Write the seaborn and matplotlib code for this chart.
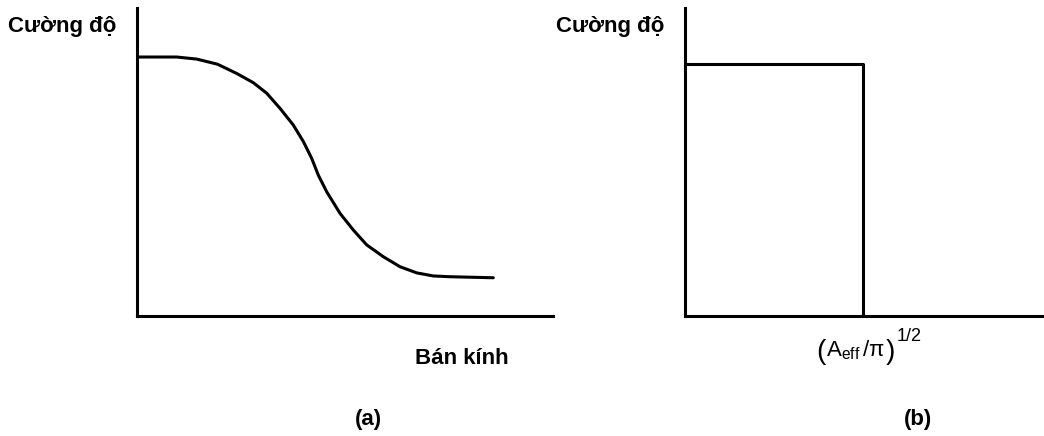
import matplotlib
matplotlib.use("Agg")
import matplotlib.pyplot as plt
import seaborn as sns
import pandas as pd

# Panel (a): intensity profile against radius
radius_a = [0.0, 0.954, 1.435, 1.935, 2.397, 2.796, 3.118, 3.438, 3.757,
            3.998, 4.200, 4.358, 4.560, 4.880, 5.200, 5.522, 5.921, 6.322,
            6.724, 7.123, 7.524, 8.565]
intensity_a = [1.009, 1.009, 1.001, 0.981, 0.945, 0.909, 0.868, 0.809, 0.744,
               0.680, 0.614, 0.549, 0.484, 0.400, 0.335, 0.277, 0.231, 0.192,
               0.168, 0.156, 0.153, 0.149]

# Panel (b): equivalent top-hat profile, cut at (A_eff/pi)^(1/2)
radius_b = [0.0, 4.28, 4.28]
intensity_b = [0.98, 0.98, 0.0]

y_label = "Cường độ"
x_label_a = "Bán kính"
x_label_b_inner = r"$A_{eff}\,/\pi$"
x_label_b_power = "1/2"
panel_tags = ["(a)", "(b)"]

sns.set_theme(style="white")
plt.rcParams["font.family"] = ["Liberation Sans", "DejaVu Sans"]
plt.rcParams["text.color"] = "black"
plt.rcParams["mathtext.fontset"] = "custom"
plt.rcParams["mathtext.rm"] = "Liberation Sans"
plt.rcParams["mathtext.it"] = "Liberation Sans"
plt.rcParams["mathtext.bf"] = "Liberation Sans:bold"
plt.rcParams["mathtext.default"] = "regular"

W, H = 1044, 436
fig = plt.figure(figsize=(W / 100, H / 100), dpi=100)
ax_a = fig.add_axes([137 / W, 1 - 316 / H, 416 / W, 308 / H])
ax_b = fig.add_axes([685 / W, 1 - 316 / H, 359 / W, 308 / H])

df_a = pd.DataFrame({"r": radius_a, "I": intensity_a})
df_b = pd.DataFrame({"r": radius_b, "I": intensity_b})

sns.lineplot(data=df_a, x="r", y="I", ax=ax_a, sort=False, estimator=None,
             color="black", linewidth=2.2)
sns.lineplot(data=df_b, x="r", y="I", ax=ax_b, sort=False, estimator=None,
             color="black", linewidth=2.2)
for ax in (ax_a, ax_b):
    for ln in ax.lines:
        ln.set_solid_joinstyle("round")

ax_a.set_xlim(0, 10)
ax_b.set_xlim(0, 359 / 41.6)
for ax in (ax_a, ax_b):
    ax.set_ylim(0, 1.2)
    ax.set_xticks([])
    ax.set_yticks([])
    ax.set_xlabel("")
    ax.set_ylabel("")
    for side in ("top", "right"):
        ax.spines[side].set_visible(False)
    for side in ("left", "bottom"):
        ax.spines[side].set_color("black")
        ax.spines[side].set_linewidth(2.2)
        ax.spines[side].set_capstyle("projecting")
    ax.patch.set_alpha(0)


def px(x, y):
    return x / W, 1 - y / H


fs = 16
fig.text(*px(8, 32), y_label, ha="left", va="baseline",
         fontsize=fs, fontweight="bold")
fig.text(*px(556, 32), y_label, ha="left", va="baseline",
         fontsize=fs, fontweight="bold")
fig.text(*px(415, 364), x_label_a, ha="left", va="baseline",
         fontsize=fs, fontweight="bold")

# (A_eff / pi)^(1/2) built from tall brackets around the inner expression
fig.text(*px(816, 359), "(", ha="left", va="baseline", fontsize=20)
fig.text(*px(826, 356), x_label_b_inner, ha="left", va="baseline", fontsize=16)
fig.text(*px(886, 359), ")", ha="left", va="baseline", fontsize=20)
fig.text(*px(897, 341), x_label_b_power, ha="left", va="baseline", fontsize=13)

fig.text(*px(368, 425), panel_tags[0], ha="center", va="baseline",
         fontsize=fs, fontweight="bold")
fig.text(*px(918, 425), panel_tags[1], ha="center", va="baseline",
         fontsize=fs, fontweight="bold")

fig.savefig("out.png", dpi=100, facecolor="white")
